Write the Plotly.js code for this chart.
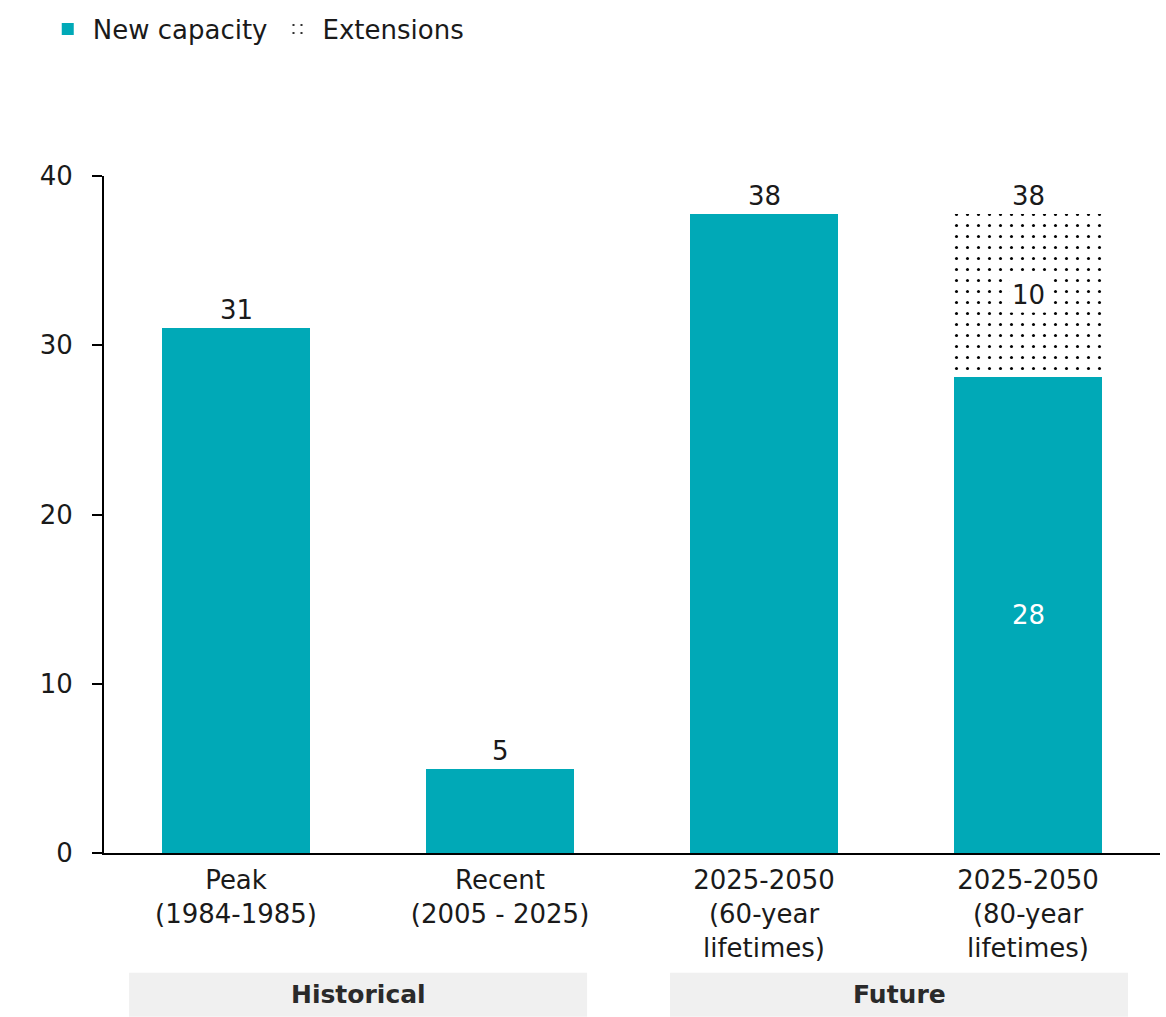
<!DOCTYPE html>
<html>
<head>
<meta charset="utf-8">
<script src="https://cdn.plot.ly/plotly-3.0.1.min.js"></script>
<style>html,body{margin:0;padding:0;background:#fff;}#chart{width:1166px;height:1017px;}</style>
</head>
<body>
<div id="chart"></div>
<script>
// ---- data ----
const categories = ["Peak<br>(1984-1985)", "Recent<br>(2005 - 2025)", "2025-2050<br>(60-year<br>lifetimes)", "2025-2050<br>(80-year<br>lifetimes)"];
const newCapacity = [31, 4.97, 37.75, 28.15];
const extensions = [null, null, null, 9.6];
const totalLabels = ["31", "5", "38", "38"];
const newCapLabel = "28";
const extLabel = "10";
const groups = ["Historical", "Future"];
const yTicks = [0, 10, 20, 30, 40];

const TEAL = "#00A9B7";
const FONT = "'DejaVu Sans', sans-serif";
const TXT = "#1a1a1a";
const FS = 26;

const traces = [
  {type: "bar", name: "New capacity", x: categories, y: newCapacity,
   marker: {color: TEAL, line: {width: 0}}, width: 0.557, hoverinfo: "skip"},
  {type: "bar", name: "Extensions", x: categories, y: extensions,
   marker: {color: "#ffffff", line: {width: 0},
            pattern: {shape: ".", fgcolor: "#000000", bgcolor: "#ffffff", size: 11, solidity: 0.06, fillmode: "replace"}},
   width: 0.557, hoverinfo: "skip"}
];

const annotations = [];
categories.forEach((c, i) => {
  const tot = (newCapacity[i] || 0) + (extensions[i] || 0);
  annotations.push({x: c, y: tot, xref: "x", yref: "y", text: totalLabels[i], showarrow: false,
    yanchor: "bottom", yshift: 1, font: {family: FONT, size: FS, color: TXT}});
});
annotations.push({x: categories[3], y: newCapacity[3] / 2, xref: "x", yref: "y", text: newCapLabel,
  showarrow: false, font: {family: FONT, size: FS, color: "#ffffff"}});
annotations.push({x: categories[3], y: newCapacity[3] + extensions[3] / 2, xref: "x", yref: "y", text: extLabel,
  showarrow: false, bgcolor: "#ffffff", borderpad: 2, font: {family: FONT, size: FS, color: TXT}});

// group label boxes
const groupSpans = [[-0.405, 1.33], [1.644, 3.379]];
const shapes = [];
groups.forEach((g, i) => {
  shapes.push({type: "rect", xref: "x", yref: "paper", x0: groupSpans[i][0], x1: groupSpans[i][1],
    y0: -0.242, y1: -0.177, fillcolor: "#f0f0f0", line: {width: 0}, layer: "below"});
  annotations.push({x: (groupSpans[i][0] + groupSpans[i][1]) / 2, y: -0.2095, xref: "x", yref: "paper",
    text: "<b>" + g + "</b>", showarrow: false, yanchor: "middle",
    font: {family: FONT, size: FS - 1, color: "#2a2a2a"}});
});

const layout = {
  width: 1166, height: 1017,
  margin: {l: 104, r: 6, t: 176, b: 164},
  paper_bgcolor: "#ffffff", plot_bgcolor: "#ffffff",
  barmode: "stack",
  font: {family: FONT, size: FS, color: TXT},
  showlegend: true,
  legend: {orientation: "h", x: -0.058, xanchor: "left", y: 1.217, yanchor: "middle",
    font: {family: FONT, size: FS, color: TXT}, itemwidth: 40, traceorder: "normal"},
  xaxis: {type: "category", range: [-0.5, 3.5], showline: true, linecolor: "#000", linewidth: 2,
    ticks: "", showgrid: false, zeroline: false, ticklabelstandoff: 3,
    tickfont: {family: FONT, size: FS, color: TXT}, fixedrange: true},
  yaxis: {range: [0, 40], tickvals: yTicks, showline: true, linecolor: "#000", linewidth: 2,
    ticks: "outside", ticklen: 10, tickwidth: 2, tickcolor: "#000", showgrid: false, zeroline: false,
    ticklabelstandoff: 14, tickfont: {family: FONT, size: FS, color: TXT}, fixedrange: true},
  annotations: annotations,
  shapes: shapes
};

Plotly.newPlot("chart", traces, layout, {displayModeBar: false, staticPlot: true});
</script>
</body>
</html>
